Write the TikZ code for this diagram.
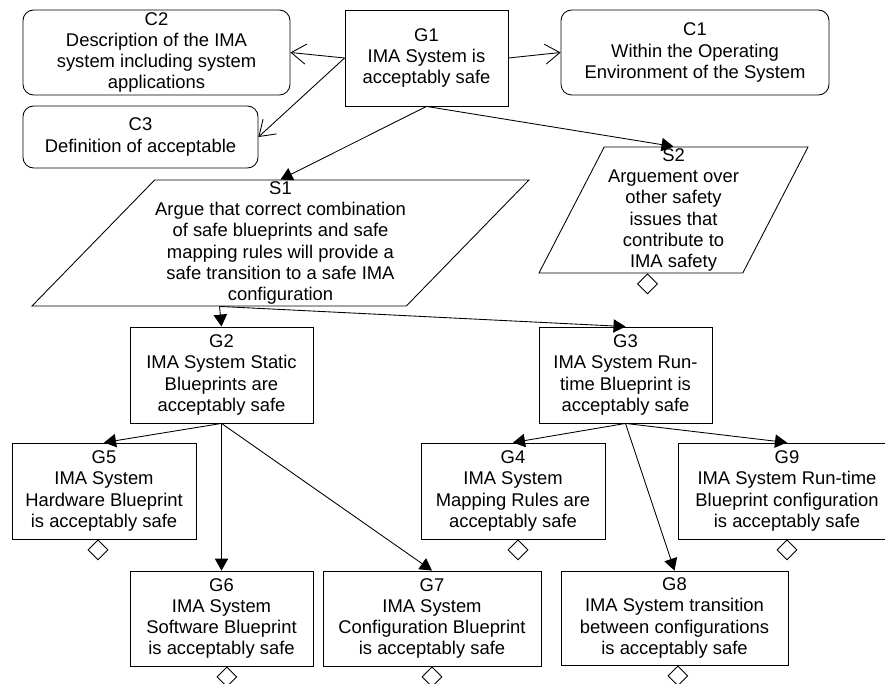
\documentclass[tikz,border=0pt]{standalone}
\usepackage{fontspec}
\setmainfont{Liberation Sans}
\usetikzlibrary{calc,positioning,shapes.geometric,arrows.meta}

\newcommand{\gsnfont}{\fontsize{13.8}{15.9}\selectfont}

\tikzset{
  goal/.style={draw, rectangle, align=center, inner sep=0pt, font=\gsnfont},
  context/.style={draw, rectangle, rounded corners=8pt, align=center, inner sep=0pt, font=\gsnfont},
  strategy/.style={draw, trapezium, trapezium stretches body, align=center, inner sep=0pt, font=\gsnfont},
  undev/.style={draw, diamond, inner sep=0pt, minimum width=15pt, minimum height=15pt},
  solvedby/.style={-{Triangle[length=9pt,width=10pt]}},
  incontext/.style={-{Straight Barb[length=11pt,width=15pt]}}
}

\begin{document}
\begin{tikzpicture}[x=0.75pt,y=0.75pt,yscale=-1,xscale=1, line width=0.65pt]
\clip (0,0) rectangle (885,684);

%Goal: top claim
\node[goal, minimum width=122.25pt, minimum height=72pt] (G1) at (426.5,58) {G1\\IMA System is\\acceptably safe};

%Context: around G1
\node[context, minimum width=200.25pt, minimum height=63.75pt] (C2) at (156.5,52.5) {C2\\Description of the IMA\\system including system\\applications};
\node[context, minimum width=176.25pt, minimum height=46.5pt] (C3) at (140.5,137) {C3\\Definition of acceptable};
\node[context, minimum width=201pt, minimum height=63.75pt] (C1) at (695,52.5) {C1\\Within the Operating\\Environment of the System};

%Strategy: parallelograms
\node[strategy, trapezium left angle=45, trapezium right angle=135, minimum width=372.75pt, minimum height=94.5pt] (S1) at (280.5,243) {S1\\Argue that correct combination\\of safe blueprints and safe\\mapping rules will provide a\\safe transition to a safe IMA\\configuration};
\node[strategy, trapezium left angle=62, trapezium right angle=118, minimum width=201.75pt, minimum height=94.5pt] (S2) at (673.5,210) {S2\\Arguement over\\other safety\\issues that\\contribute to\\IMA safety};

%Goal: second level
\node[goal, minimum width=137.25pt, minimum height=72pt] (G2) at (221.5,375) {G2\\IMA System Static\\Blueprints are\\acceptably safe};
\node[goal, minimum width=129.75pt, minimum height=72pt] (G3) at (625.5,375) {G3\\IMA System Run-\\time Blueprint is\\acceptably safe};

%Goal: third level
\node[goal, minimum width=138pt, minimum height=72pt] (G5) at (104,491) {G5\\IMA System\\Hardware Blueprint\\is acceptably safe};
\node[goal, minimum width=138pt, minimum height=72pt] (G4) at (513,491) {G4\\IMA System\\Mapping Rules are\\acceptably safe};
\node[goal, minimum width=163.5pt, minimum height=72pt] (G9) at (787,491) {G9\\IMA System Run-time\\Blueprint configuration\\is acceptably safe};

%Goal: bottom row
\node[goal, minimum width=137.25pt, minimum height=71.25pt] (G6) at (221.5,618.5) {G6\\IMA System\\Software Blueprint\\is acceptably safe};
\node[goal, minimum width=163.5pt, minimum height=71.25pt] (G7) at (432,618.5) {G7\\IMA System\\Configuration Blueprint\\is acceptably safe};
\node[goal, minimum width=170.25pt, minimum height=70.5pt] (G8) at (674.5,618) {G8\\IMA System transition\\between configurations\\is acceptably safe};

%Undeveloped marks
\node[undev, below=0pt of S2, xshift=-19.5pt] (S2u) {};
\node[undev, below=0pt of G5, xshift=-4.5pt] (G5u) {};
\node[undev, below=0pt of G4, xshift=3.75pt] (G4u) {};
\node[undev, below=0pt of G9] (G9u) {};
\node[undev, below=0pt of G6, xshift=4pt] (G6u) {};
\node[undev, below=0pt of G7] (G7u) {};
\node[undev, below=0pt of G8, xshift=2.5pt] (G8u) {};

%Connectors: context
\draw[incontext] (G1.west) -- (C2.east);
\draw[incontext] (G1.west) -- (C3.east);
\draw[incontext] (G1.east) -- (C1.west);

%Connectors: solved by
\coordinate (S1out) at ($(S1.south)+(-61,0)$);
\draw[solvedby] (G1.south) -- (S1.north);
\draw[solvedby] (G1.south) -- (S2.north);
\draw[solvedby] (S1out) -- (G2.north);
\draw[solvedby] (S1out) -- (G3.north);
\draw[solvedby] (G2.south) -- (G5.north);
\draw[solvedby] (G2.south) -- (G6.north);
\draw[solvedby] (G2.south) -- (G7.north);
\draw[solvedby] (G3.south) -- (G4.north);
\draw[solvedby] (G3.south) -- (G8.north);
\draw[solvedby] (G3.south) -- (G9.north);
\end{tikzpicture}
\end{document}
